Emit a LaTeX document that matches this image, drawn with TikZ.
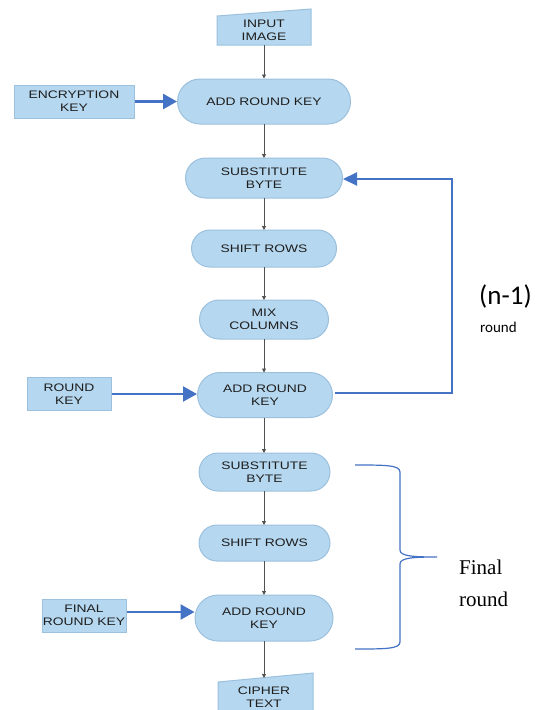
\documentclass[tikz,border=0pt]{standalone}
\usepackage{fontspec}
\usetikzlibrary{shapes.misc,arrows.meta,calc}
\newfontfamily\boxfont[FakeStretch=1.27]{Liberation Sans}
\newfontfamily\calfont{Carlito}
\newfontfamily\serffont{Liberation Serif}
\definecolor{boxfill}{HTML}{B5D7EF}
\definecolor{boxline}{HTML}{9CC1DE}
\definecolor{keyblue}{HTML}{4472C4}
\definecolor{flowgray}{HTML}{505050}
\definecolor{txt}{HTML}{1E1E1E}
\tikzset{
  stepbox/.style={rounded rectangle, draw=boxline, fill=boxfill, line width=1pt, inner sep=0pt,
    align=center, text=txt, font=\boxfont\fontsize{10.9}{12.8}\selectfont},
  keybox/.style={rectangle, draw=boxline, fill=boxfill, line width=1pt, inner sep=0pt,
    align=center, text=txt, font=\boxfont\fontsize{10.9}{12.8}\selectfont},
  iotext/.style={inner sep=0pt, align=center, text=txt, font=\boxfont\fontsize{10.9}{12.8}\selectfont},
  flow/.style={draw=flowgray, line width=0.8pt, -{Triangle[length=4pt,width=4pt]}},
  keyarrow/.style={draw=keyblue, line width=2.6pt, -{Triangle[length=14pt,width=15pt]}},
  looparrow/.style={draw=keyblue, line width=2pt, -{Triangle[length=14pt,width=13pt]}},
}
\begin{document}
\begin{tikzpicture}[x=1pt,y=-1pt]
\useasboundingbox (0,0) rectangle (551,710);
% input image (manual input shape)
\filldraw[draw=boxline, fill=boxfill, line width=1pt] (217,16) -- (311,9) -- (311,45) -- (217,45) -- cycle;
\node[iotext, minimum width=94pt, minimum height=29pt] (in) at (264,30.5) {INPUT\\IMAGE};
% cipher text
\filldraw[draw=boxline, fill=boxfill, line width=1pt] (218,682) -- (313,673) -- (313,712) -- (218,712) -- cycle;
\node[iotext] (ct) at (264,697.5) {CIPHER\\TEXT};
\coordinate (cttop) at (264,678);

% main steps
\node[stepbox, minimum width=173pt, minimum height=45pt] (ark1) at (264,101.5) {ADD ROUND KEY};
\node[stepbox, minimum width=157pt, minimum height=40pt] (sb1) at (264,178) {SUBSTITUTE\\BYTE};
\node[stepbox, minimum width=145pt, minimum height=37pt] (sr1) at (264,248.5) {SHIFT ROWS};
\node[stepbox, minimum width=129pt, minimum height=39pt] (mc) at (264,319.5) {MIX\\COLUMNS};
\node[stepbox, minimum width=135pt, minimum height=45pt] (ark2) at (265,395) {ADD ROUND\\KEY};
\node[stepbox, minimum width=131pt, minimum height=38pt] (sb2) at (264.5,472) {SUBSTITUTE\\BYTE};
\node[stepbox, minimum width=131pt, minimum height=36pt] (sr2) at (264.5,543) {SHIFT ROWS};
\node[stepbox, minimum width=138pt, minimum height=46pt] (ark3) at (264,618) {ADD ROUND\\KEY};

% key boxes
\node[keybox, minimum width=120pt, minimum height=33pt] (ek) at (74,101.5) {ENCRYPTION\\KEY};
\node[keybox, minimum width=84pt, minimum height=33pt] (rk) at (69,394) {ROUND\\KEY};
\node[keybox, minimum width=84pt, minimum height=33pt] (frk) at (84,615.5) {FINAL\\ROUND KEY};

% gray flow arrows
\draw[flow] (in.south) -- (in.south |- ark1.north);
\draw[flow] (264,124) -- (264,158);
\draw[flow] (264,198) -- (264,230);
\draw[flow] (264,267) -- (264,300);
\draw[flow] (264,339) -- (264,372.5);
\draw[flow] (264,417.5) -- (264,453);
\draw[flow] (264,491) -- (264,525);
\draw[flow] (264,561) -- (264,595);
\draw[flow] (264,641) -- (cttop);

% blue key arrows
\draw[keyarrow] (ek.east) -- (ark1.west);
\draw[keyarrow, line width=2.2pt] (rk.east) -- (rk.east -| ark2.west);
\draw[keyarrow] (frk.east |- 0,612) -- (ark3.west |- 0,612);

% loop back
\coordinate (lp) at (452,179);
\coordinate (lstart) at (335,393);
\draw[looparrow] (lstart) -| (lp) -- (sb1.east |- lp);

% labels
\node[anchor=base west, inner sep=0pt, font=\calfont\fontsize{27}{30}\selectfont] (nm) at (479,304) {(n-1)};
\node[anchor=base west, inner sep=0pt, font=\calfont\fontsize{15}{17}\selectfont] (rd) at (480,332) {round};

% brace
\draw[keyblue, line width=1.2pt] (355,465) .. controls (385,465) and (400,465) .. (400,472)
  -- (400,550) .. controls (400,556) and (412,557) .. (437,557)
  .. controls (412,557) and (400,558) .. (400,564)
  -- (400,642) .. controls (400,649) and (385,649) .. (355,649);
\node[anchor=base west, inner sep=0pt, align=left, font=\serffont\fontsize{21}{32}\selectfont] (fr) at (459,574) {Final};
\node[anchor=base west, inner sep=0pt, align=left, font=\serffont\fontsize{21}{32}\selectfont] (fr2) at (459,606) {round};
\end{tikzpicture}
\end{document}
